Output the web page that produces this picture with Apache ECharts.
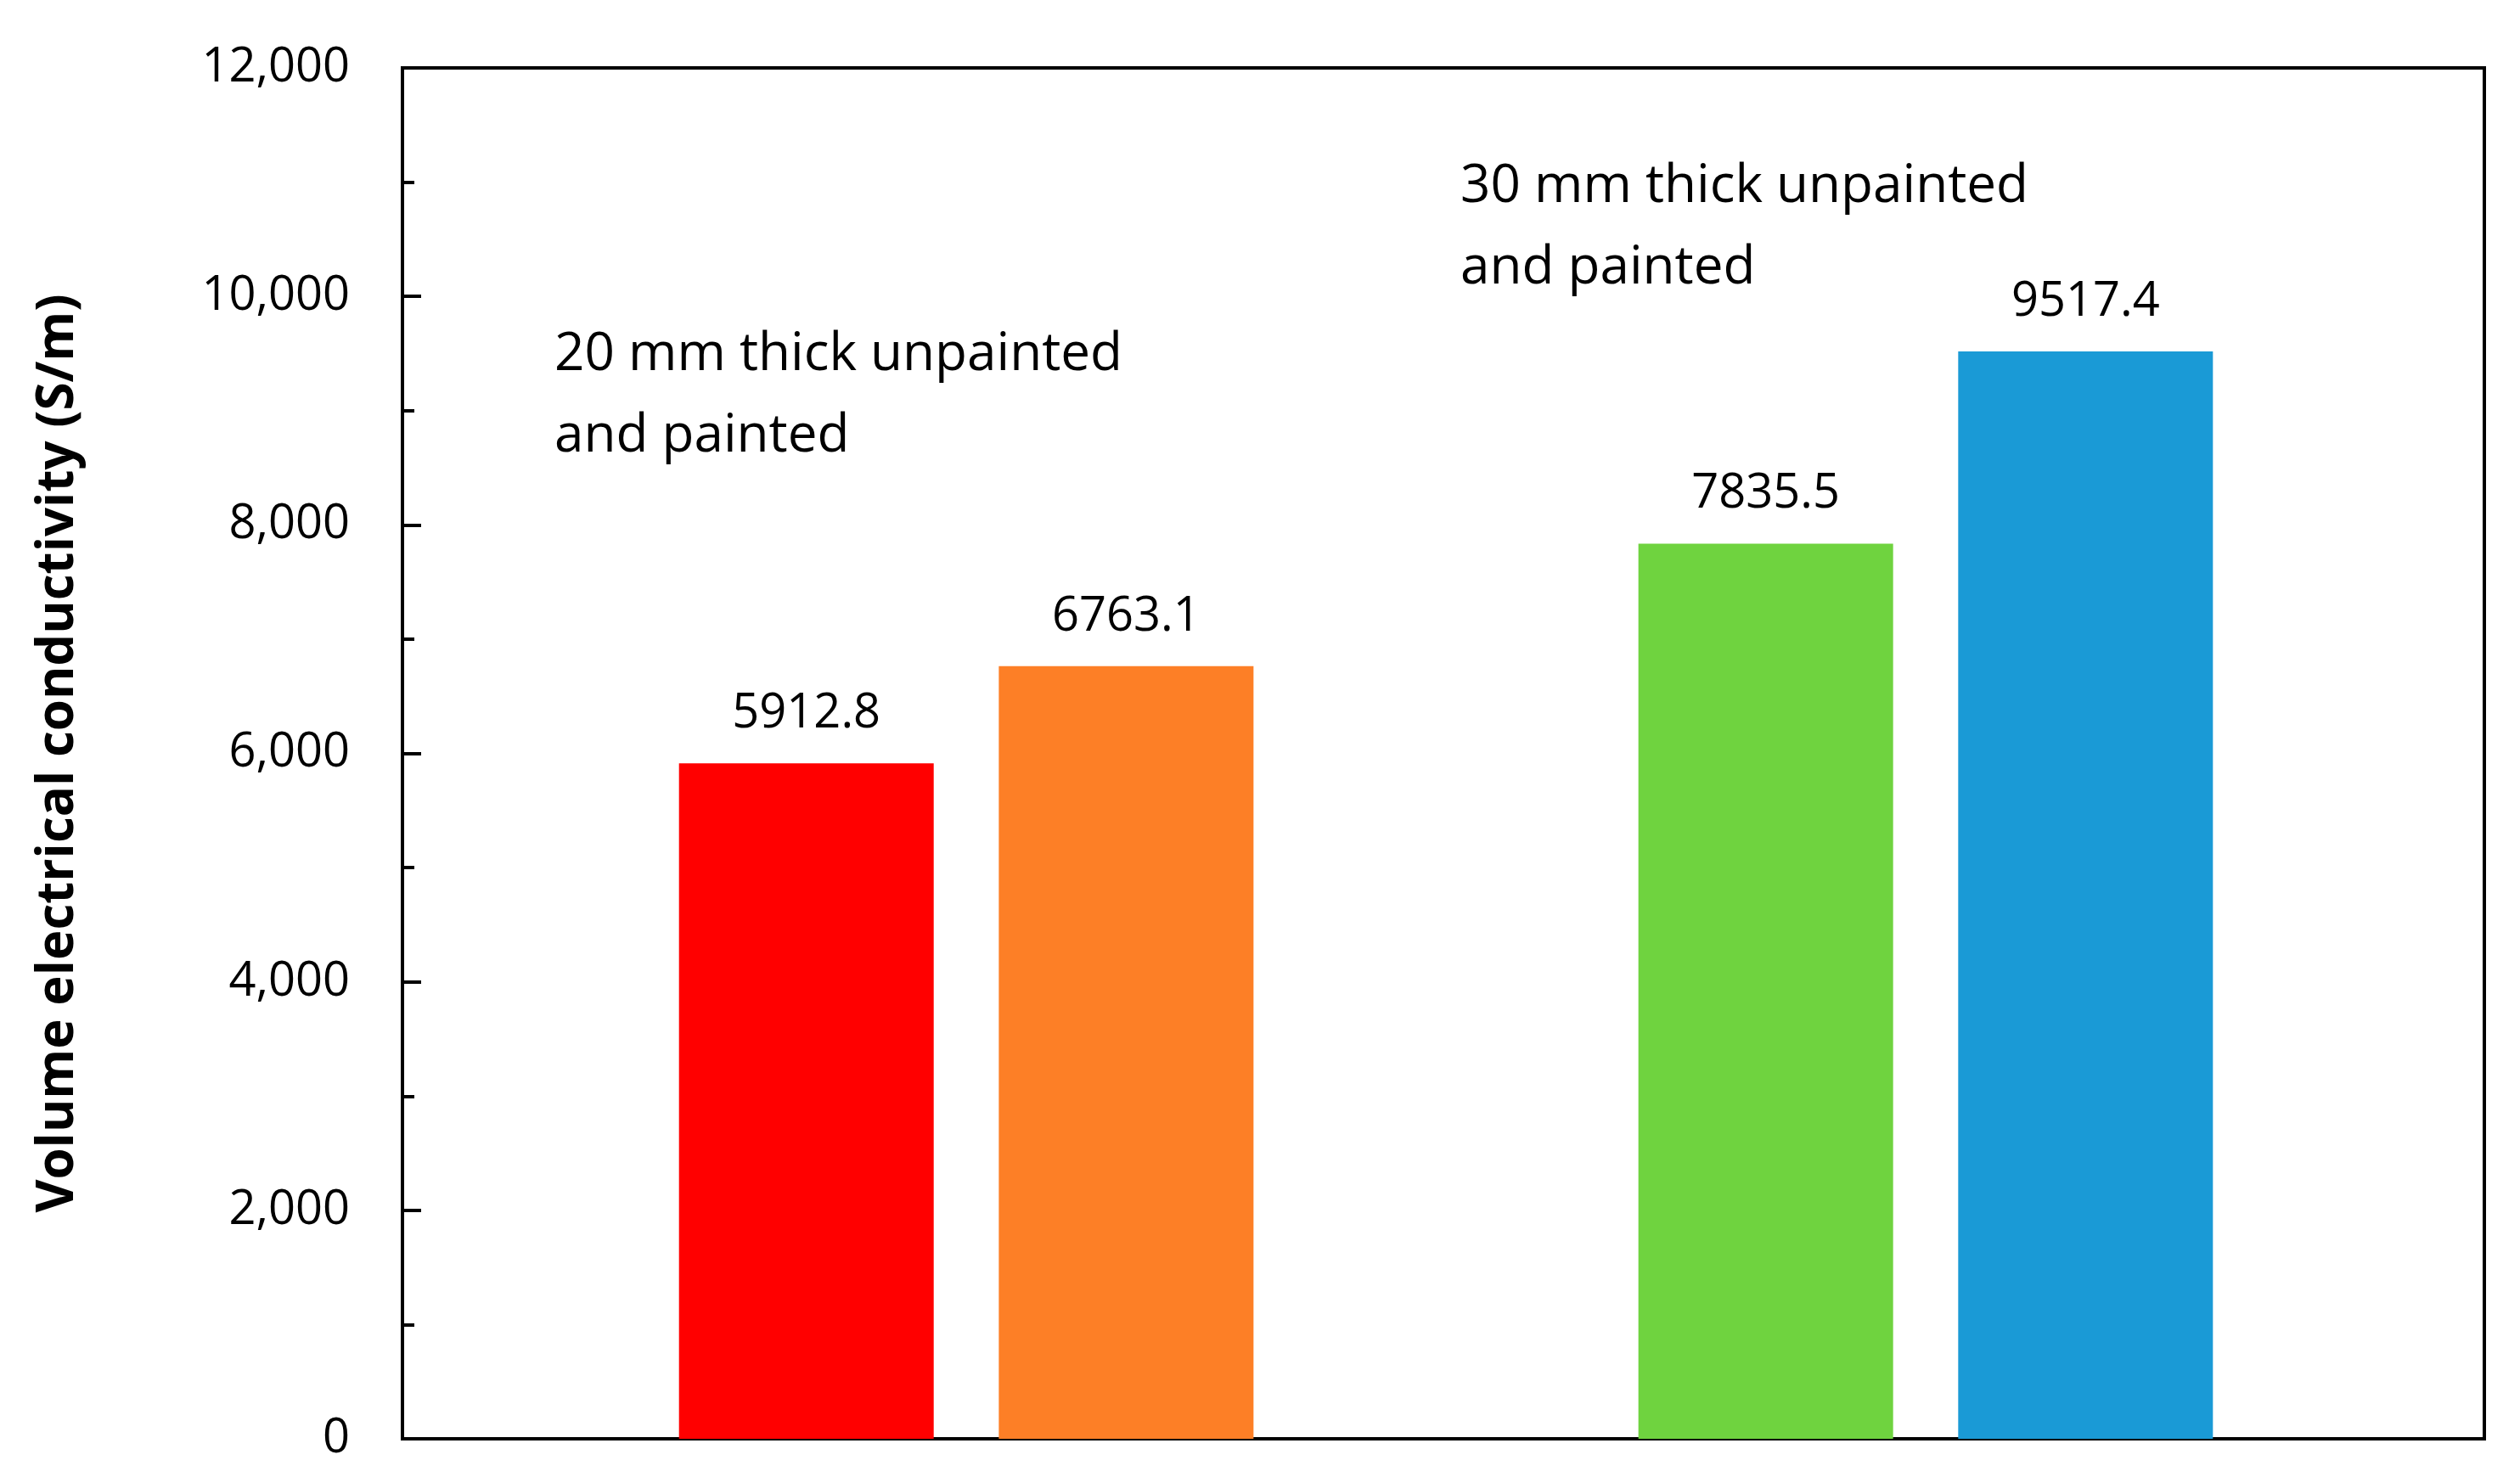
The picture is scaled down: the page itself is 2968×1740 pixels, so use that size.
<!DOCTYPE html>
<html>
<head>
<meta charset="utf-8">
<script src="https://cdn.jsdelivr.net/npm/echarts@6/dist/echarts.min.js"></script>
<style>
  html, body { margin: 0; padding: 0; background: #fff; }
  #chart { width: 2968px; height: 1740px; }
</style>
</head>
<body>
<div id="chart"></div>
<script>
// bar positions along the x axis (in bar-spacing units) and values
const barPositions = [1.263, 2.263, 4.263, 5.263];
const barValues = [5912.8, 6763.1, 7835.5, 9517.4];
const barColors = ['#ff0000', '#fd7f26', '#6fd33f', '#1a9ad6'];
const groupLabels = [
  '20 mm thick unpainted\nand painted',
  '30 mm thick unpainted\nand painted'
];

const FONT = '"Open Sans", "Noto Sans", sans-serif';
const chart = echarts.init(document.getElementById('chart'));

chart.setOption({
  backgroundColor: '#fff',
  animation: false,
  grid: {
    left: 474, right: 42, top: 80, bottom: 45,
    show: true, borderColor: '#000', borderWidth: 4
  },
  xAxis: {
    type: 'value', min: 0, max: 6.51,
    axisLine: { show: false },
    axisTick: { show: false },
    axisLabel: { show: false },
    splitLine: { show: false }
  },
  yAxis: {
    type: 'value', min: 0, max: 12000, interval: 2000,
    name: 'Volume electrical conductivity (S/m)',
    nameLocation: 'middle',
    nameGap: 375,
    nameTextStyle: { fontFamily: FONT, fontSize: 60, fontWeight: 'bold', color: '#000' },
    axisLine: { show: true, lineStyle: { color: '#000', width: 4 } },
    axisTick: { show: true, inside: true, length: 22, lineStyle: { color: '#000', width: 4 } },
    minorTick: { show: true, splitNumber: 2, length: 14, lineStyle: { color: '#000', width: 4 } },
    axisLabel: { fontFamily: FONT, fontSize: 56, color: '#000', margin: 62 },
    splitLine: { show: false }
  },
  series: [{
    type: 'bar',
    barWidth: 300,
    data: barValues.map((v, i) => ({
      value: [barPositions[i], v],
      itemStyle: { color: barColors[i] }
    })),
    label: {
      show: true, position: 'top', distance: 30,
      fontFamily: FONT, fontSize: 56, color: '#000',
      formatter: p => p.value[1].toFixed(1)
    }
  }],
  graphic: [
    {
      type: 'text', left: 653, top: 370,
      style: { text: groupLabels[0], fontFamily: FONT, fontSize: 62, lineHeight: 96, fill: '#000' }
    },
    {
      type: 'text', left: 1720, top: 172,
      style: { text: groupLabels[1], fontFamily: FONT, fontSize: 62, lineHeight: 96, fill: '#000' }
    }
  ]
});
</script>
</body>
</html>
